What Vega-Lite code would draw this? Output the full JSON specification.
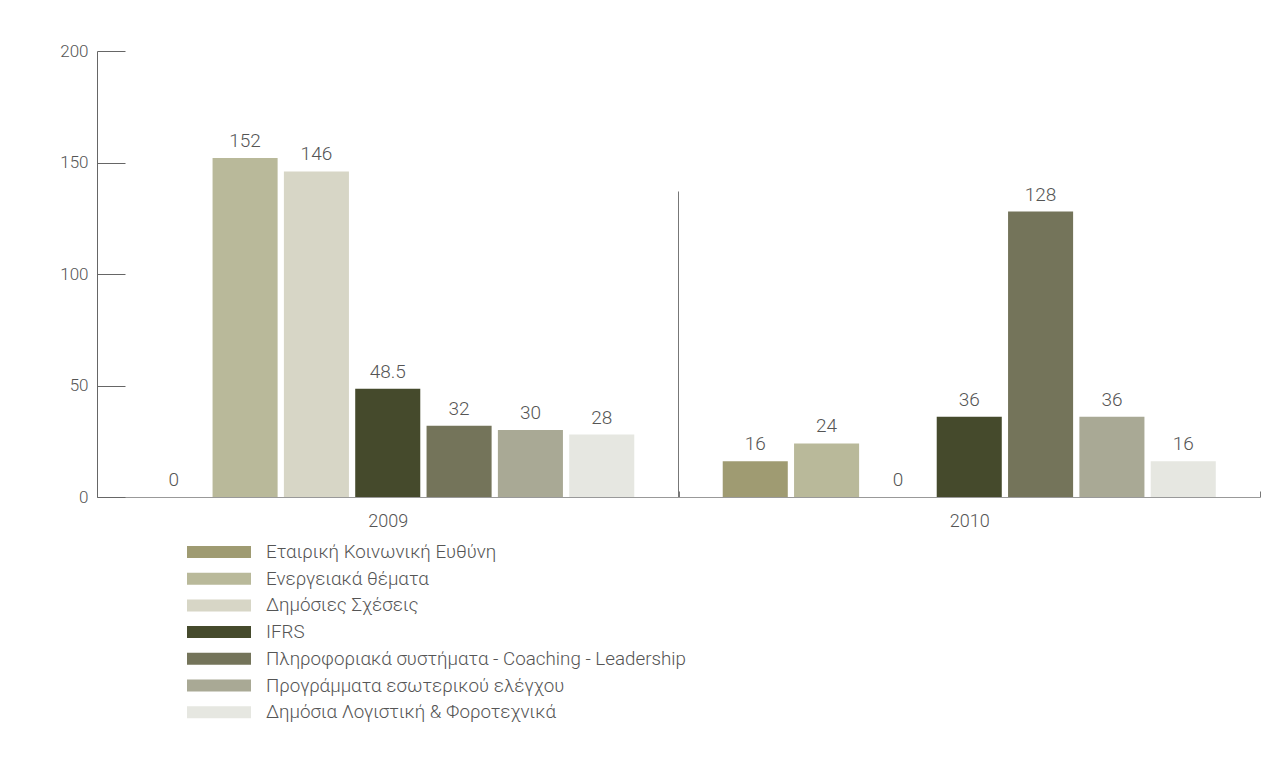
{
  "$schema": "https://vega.github.io/schema/vega-lite/v6.json",
  "width": 1163,
  "height": 446,
  "autosize": {"type": "none"},
  "padding": {"left": 97, "top": 51, "right": 24, "bottom": 274},
  "background": "white",
  "config": {"view": {"stroke": null}, "font": "Roboto", "text": {"font": "Roboto"}},
  "datasets": {
    "bars": [
      {"year": "2009", "topic": "Εταιρική Κοινωνική Ευθύνη", "hours": 0},
      {"year": "2009", "topic": "Ενεργειακά θέματα", "hours": 152},
      {"year": "2009", "topic": "Δημόσιες Σχέσεις", "hours": 146},
      {"year": "2009", "topic": "IFRS", "hours": 48.5},
      {"year": "2009", "topic": "Πληροφοριακά συστήματα - Coaching - Leadership", "hours": 32},
      {"year": "2009", "topic": "Προγράμματα εσωτερικού ελέγχου", "hours": 30},
      {"year": "2009", "topic": "Δημόσια Λογιστική & Φοροτεχνικά", "hours": 28},
      {"year": "2010", "topic": "Εταιρική Κοινωνική Ευθύνη", "hours": 16},
      {"year": "2010", "topic": "Ενεργειακά θέματα", "hours": 24},
      {"year": "2010", "topic": "Δημόσιες Σχέσεις", "hours": 0},
      {"year": "2010", "topic": "IFRS", "hours": 36},
      {"year": "2010", "topic": "Πληροφοριακά συστήματα - Coaching - Leadership", "hours": 128},
      {"year": "2010", "topic": "Προγράμματα εσωτερικού ελέγχου", "hours": 36},
      {"year": "2010", "topic": "Δημόσια Λογιστική & Φοροτεχνικά", "hours": 16}
    ],
    "sep": [{"year": "2010"}]
  },
  "layer": [
    {
      "data": {"name": "bars"},
      "mark": {"type": "bar"},
      "encoding": {
        "x": {
          "field": "year", "type": "nominal",
          "scale": {"paddingInner": 0, "paddingOuter": 0},
          "axis": {
            "title": null, "labelAngle": 0, "tickBand": "extent", "tickSize": -6,
            "tickColor": "#777", "domainColor": "#999", "labelPadding": 21,
            "labelFontSize": 18, "labelColor": "#555", "labelFontWeight": 300
          }
        },
        "xOffset": {
          "field": "topic", "type": "nominal",
          "scale": {
            "domain": ["Εταιρική Κοινωνική Ευθύνη", "Ενεργειακά θέματα", "Δημόσιες Σχέσεις", "IFRS", "Πληροφοριακά συστήματα - Coaching - Leadership", "Προγράμματα εσωτερικού ελέγχου", "Δημόσια Λογιστική & Φοροτεχνικά"],
            "paddingInner": 0.088, "paddingOuter": 0.62
          }
        },
        "y": {
          "field": "hours", "type": "quantitative",
          "scale": {"domain": [0, 200]},
          "axis": {
            "title": null, "values": [0, 50, 100, 150, 200], "grid": false,
            "tickSize": -28, "tickColor": "#666", "domainColor": "#666",
            "labelPadding": 37, "labelFontSize": 17, "labelColor": "#555", "labelFontWeight": 300
          }
        },
        "color": {
          "field": "topic", "type": "nominal",
          "scale": {
            "domain": ["Εταιρική Κοινωνική Ευθύνη", "Ενεργειακά θέματα", "Δημόσιες Σχέσεις", "IFRS", "Πληροφοριακά συστήματα - Coaching - Leadership", "Προγράμματα εσωτερικού ελέγχου", "Δημόσια Λογιστική & Φοροτεχνικά"],
            "range": ["#9f9b72", "#b9b99a", "#d7d6c6", "#454a2c", "#74745a", "#a9a995", "#e6e7e1"]
          },
          "legend": {
            "title": null, "orient": "none", "legendX": 112, "legendY": 491,
            "symbolType": "M-3.2,-0.6H3.2V0.6H-3.2Z", "symbolSize": 400,
            "symbolStrokeWidth": 0, "symbolOpacity": 1,
            "labelFontSize": 18.8, "labelColor": "#555", "labelFontWeight": 300,
            "labelOffset": 37, "rowPadding": 6.7, "labelLimit": 0, "padding": 0
          }
        }
      }
    },
    {
      "data": {"name": "bars"},
      "mark": {"type": "text", "baseline": "alphabetic", "dy": -11, "fontSize": 19, "color": "#555", "fontWeight": 300},
      "encoding": {
        "x": {"field": "year", "type": "nominal"},
        "xOffset": {"field": "topic", "type": "nominal"},
        "y": {"field": "hours", "type": "quantitative"},
        "text": {"field": "hours", "type": "quantitative"}
      }
    },
    {
      "data": {"name": "sep"},
      "mark": {"type": "rule", "color": "#777", "strokeWidth": 1},
      "encoding": {
        "x": {"field": "year", "type": "nominal", "bandPosition": 0},
        "y": {"datum": 0},
        "y2": {"datum": 137}
      }
    }
  ]
}
